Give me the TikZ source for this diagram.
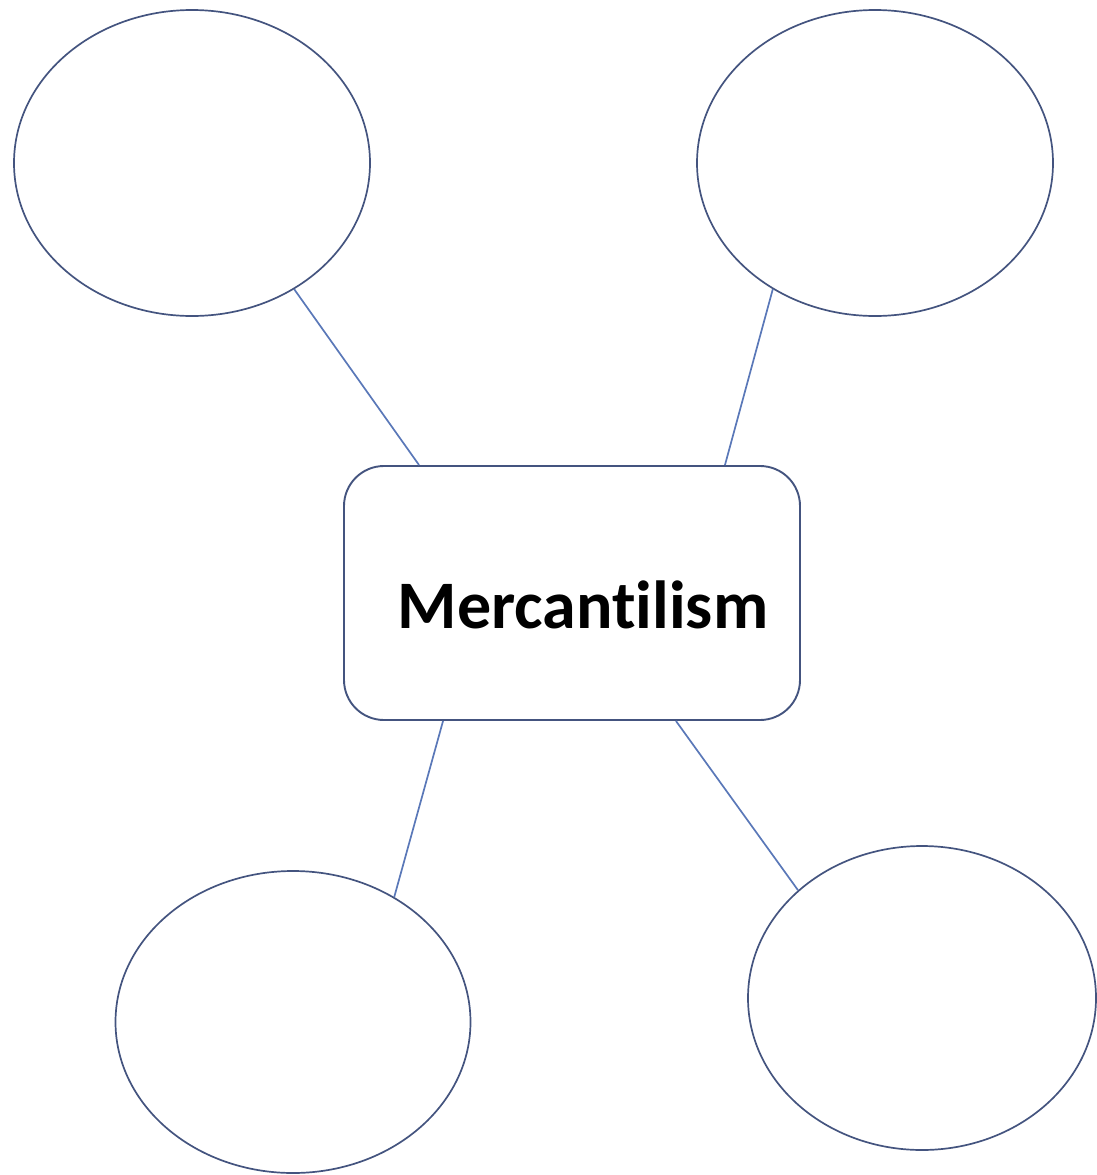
\documentclass[tikz,border=0pt]{standalone}
\usepackage{fontspec}
\setmainfont{Carlito}[Ligatures=NoCommon]
\usetikzlibrary{shapes.geometric,calc}
\definecolor{ellcol}{HTML}{44547F}
\definecolor{lincol}{HTML}{5A78B8}
\tikzset{
  bubble/.style={ellipse,draw=ellcol,line width=1.7pt,inner sep=0pt},
  centerbox/.style={rectangle,rounded corners=40pt,draw=ellcol,line width=1.9pt,minimum width=456pt,minimum height=254pt,inner sep=0pt},
  link/.style={draw=lincol,line width=1.7pt}
}
\begin{document}
\begin{tikzpicture}[x=1pt,y=-1pt]
\useasboundingbox (0,0) rectangle (1097,1175);
\node[bubble,minimum width=356pt,minimum height=306pt] (tl) at (192,163) {};
\node[bubble,minimum width=356pt,minimum height=306pt] (tr) at (875,163) {};
\node[bubble,minimum width=355pt,minimum height=302pt] (bl) at (293,1022) {};
\node[bubble,minimum width=348pt,minimum height=304pt] (br) at (922,998) {};
\node[centerbox] (box) at (572,593) {};
\node[anchor=base,font=\fontsize{68pt}{80pt}\selectfont\bfseries] (label) at (583,628) {Mercantilism};
\coordinate (p1) at ($(box.north west)+(76,0)$);
\coordinate (p2) at ($(box.north east)+(-76,0)$);
\coordinate (p3) at ($(box.south west)+(100,0)$);
\coordinate (p4) at ($(box.south east)+(-125,0)$);
\draw[link] (tl.-51.6) -- (p1);
\draw[link] (tr.231.9) -- (p2);
\draw[link] (p3) -- (bl.51.2);
\draw[link] (p4) -- (br.139.6);
\end{tikzpicture}
\end{document}
